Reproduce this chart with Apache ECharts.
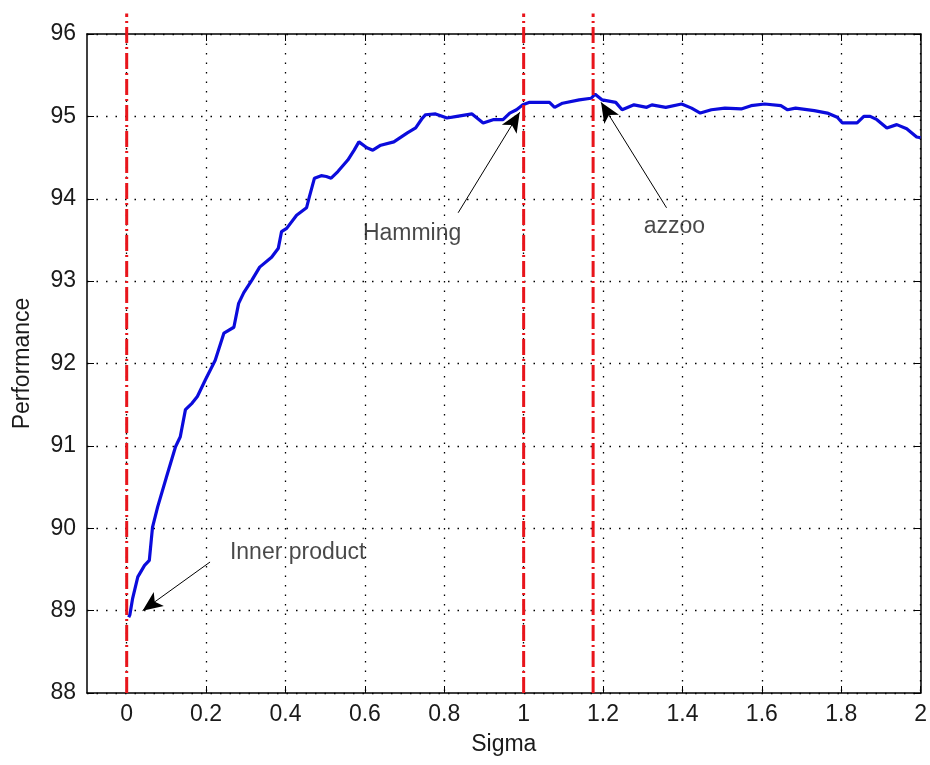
<!DOCTYPE html>
<html>
<head>
<meta charset="utf-8">
<script src="https://cdn.jsdelivr.net/npm/echarts@6/dist/echarts.min.js"></script>
<style>html,body{margin:0;padding:0;background:#fff;}#c{width:930px;height:765px;}</style>
</head>
<body>
<div id="c"></div>
<script>
// ---- data ----
const sigma = [0.005,0.008,0.015,0.028,0.045,0.057,0.065,0.078,0.10,0.123,0.135,0.148,0.165,0.178,0.198,0.223,0.245,0.27,0.282,0.295,0.315,0.335,0.365,0.382,0.39,0.403,0.428,0.453,0.46,0.473,0.49,0.503,0.515,0.532,0.557,0.573,0.585,0.59,0.605,0.62,0.64,0.673,0.707,0.728,0.745,0.753,0.778,0.807,0.832,0.87,0.898,0.923,0.948,0.965,0.982,0.998,1.015,1.065,1.078,1.098,1.14,1.17,1.18,1.198,1.232,1.248,1.278,1.31,1.323,1.358,1.398,1.423,1.445,1.473,1.507,1.548,1.573,1.607,1.648,1.665,1.685,1.732,1.765,1.79,1.803,1.84,1.857,1.873,1.89,1.915,1.94,1.965,1.99,2.0];
const performance = [88.92,88.95,89.15,89.41,89.55,89.61,90.01,90.26,90.62,90.99,91.11,91.44,91.52,91.6,91.8,92.04,92.37,92.44,92.73,92.86,93.01,93.17,93.29,93.4,93.6,93.64,93.8,93.89,94.02,94.25,94.28,94.27,94.25,94.33,94.47,94.59,94.69,94.71,94.62,94.59,94.65,94.69,94.8,94.86,94.98,95.02,95.03,94.98,95.0,95.03,94.92,94.96,94.96,95.04,95.08,95.14,95.17,95.17,95.11,95.16,95.2,95.22,95.27,95.2,95.17,95.08,95.14,95.11,95.14,95.11,95.15,95.1,95.04,95.08,95.1,95.09,95.13,95.15,95.13,95.08,95.1,95.07,95.04,94.99,94.92,94.92,95.0,95.0,94.96,94.86,94.9,94.85,94.75,94.74];
const markerSigmas = [0, 1, 1.175];
const markerRange = [88, 96.25];
const annotTexts = ['Inner product', 'Hamming', 'azzoo'];
const annotTextAt = [[0.26, 89.70], [0.595, 93.58], [1.3025, 93.66]];
const arrowFrom = [[0.21, 89.59], [0.835, 93.83], [1.36, 93.89]];
const arrowTo = [[0.04, 89.0], [0.99, 95.05], [1.195, 95.17]];
const xTickValues = [0, 0.2, 0.4, 0.6, 0.8, 1, 1.2, 1.4, 1.6, 1.8, 2];
const xRange = [-0.1, 2];
const yRange = [88, 96];
const yStep = 1;

// ---- chart ----
const chart = echarts.init(document.getElementById('c'), null, {renderer: 'canvas'});
const font = 'Liberation Sans, Arial, sans-serif';
const txt = '#1a1a1a';
const fs = 23;
const curve = sigma.map((s, i) => [s, performance[i]]);

const series = [{
  type: 'line', data: curve, showSymbol: false, symbol: 'none',
  lineStyle: {color: '#0b0bdc', width: 3.2}, z: 3, animation: false,
  markLine: {
    silent: true, animation: false, symbol: ['none', 'arrow'], symbolSize: [13, 20],
    label: {show: false},
    lineStyle: {color: '#000', width: 1, type: 'solid'},
    itemStyle: {color: '#000'},
    data: arrowFrom.map((f, i) => [{coord: f}, {coord: arrowTo[i]}])
  }
}];
markerSigmas.forEach(s => {
  series.push({
    type: 'line', data: [[s, markerRange[0]], [s, markerRange[1]]],
    showSymbol: false, symbol: 'none', clip: false, z: 4, animation: false,
    lineStyle: {color: '#e8151b', width: 3, type: [16, 4, 2, 4]}
  });
});
series.push({
  type: 'scatter', data: annotTextAt.map((p, i) => ({value: p, name: annotTexts[i]})),
  symbolSize: 0, z: 6, animation: false, silent: true,
  label: {show: true, position: 'right', distance: 0, formatter: p => p.name,
          color: txt, fontFamily: font, fontSize: fs}
});

const axisLineStyle = {show: true, onZero: false, lineStyle: {color: '#000', width: 1.5}};
const tickStyle = {length: 7, lineStyle: {color: '#000', width: 1}};
const gridLine = {show: true, lineStyle: {color: '#000', width: 1.3, type: [1.5, 8]}};

chart.setOption({
  animation: false,
  backgroundColor: '#fff',
  grid: {left: 87, right: 7, top: 34, bottom: 72, containLabel: false},
  xAxis: [{
    type: 'value', min: xRange[0], max: xRange[1],
    position: 'bottom', axisLine: axisLineStyle,
    axisTick: {show: true, inside: true, customValues: xTickValues, ...tickStyle},
    axisLabel: {color: txt, fontFamily: font, fontSize: fs, margin: 10, customValues: xTickValues,
      formatter: v => String(Math.round(v * 10) / 10)},
    splitLine: gridLine,
    name: 'Sigma', nameLocation: 'middle', nameGap: 40,
    nameTextStyle: {color: txt, fontFamily: font, fontSize: fs}
  }, {
    type: 'value', min: xRange[0], max: xRange[1],
    position: 'top', axisLine: axisLineStyle,
    axisTick: {show: true, inside: true, customValues: xTickValues, ...tickStyle},
    axisLabel: {show: false}, splitLine: {show: false}
  }],
  yAxis: [{
    type: 'value', min: yRange[0], max: yRange[1], interval: yStep,
    position: 'left', axisLine: axisLineStyle,
    axisTick: {show: true, inside: true, ...tickStyle},
    axisLabel: {color: txt, fontFamily: font, fontSize: fs, margin: 11},
    splitLine: gridLine,
    name: 'Performance', nameLocation: 'middle', nameGap: 53,
    nameTextStyle: {color: txt, fontFamily: font, fontSize: fs}
  }, {
    type: 'value', min: yRange[0], max: yRange[1], interval: yStep,
    position: 'right', axisLine: axisLineStyle,
    axisTick: {show: true, inside: true, ...tickStyle},
    axisLabel: {show: false}, splitLine: {show: false}
  }],
  series: series
});
</script>
</body>
</html>
